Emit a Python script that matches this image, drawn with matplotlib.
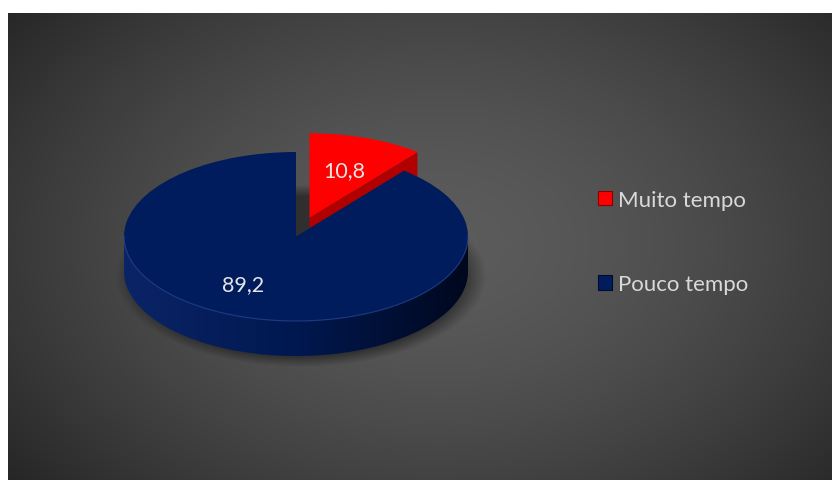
import numpy as np
import matplotlib.pyplot as plt
from matplotlib.patches import Polygon
from matplotlib.colors import LinearSegmentedColormap

plt.rcParams['font.family'] = ['Lato', 'DejaVu Sans']

# dados do gráfico
labels = ['Muito tempo', 'Pouco tempo']
values = [10.8, 89.2]
explode = [0.235, 0.0]
top_colors = ['#ff0000', '#001c5c']
face_colors = ['#b00000', '#00123c']
side_colors = [['#d00000', '#a00000', '#700000'],
               ['#0b2466', '#001850', '#00081e']]
edge_colors = ['#8a0000', '#000c2c']

W, H = 833, 481
fig = plt.figure(figsize=(W / 100, H / 100), dpi=100)
fig.patch.set_facecolor('white')

# fundo cinza com gradiente radial
bw, bh = 824, 467
bg = fig.add_axes([8 / W, 0, bw / W, bh / H])
yy, xx = np.mgrid[0:bh, 0:bw]
rho = np.sqrt(((xx - 430) / 560) ** 2 + ((yy - 230) / 380) ** 2)
val = 0.36 - 0.215 * np.clip(rho, 0, 1.2) ** 1.6
bg.imshow(np.dstack([val, val, val]), aspect='auto', interpolation='bilinear')
bg.axis('off')

# eixo da pizza: círculo unitário achatado em elipse
cx, cy, rx, ry = 296, H - 237.5, 172, 84.5
depth = 35 / ry
ax = fig.add_axes([0, 0, 1, 1])
ax.set_facecolor('none')

wedges, texts, autotexts = ax.pie(
    values, explode=explode, colors=top_colors, startangle=90,
    counterclock=False, pctdistance=0.6,
    autopct=lambda p: f'{p:.1f}'.replace('.', ','),
    wedgeprops=dict(linewidth=0),
    textprops=dict(color='#e6e6e6', fontsize=15.5))

# sombra suave por baixo
sx0, sx1, sy0, sy1 = -1.4, 1.5, -2.2, 1.2
gy, gx = np.mgrid[sy1:sy0:300j, sx0:sx1:300j]
d = np.sqrt((gx - 0.03) ** 2 + (gy + depth + 0.06) ** 2)
alpha = 0.45 * np.clip((1.08 - d) / 0.14, 0, 1)
shadow = np.zeros(gx.shape + (4,))
shadow[..., 3] = alpha
ax.imshow(shadow, extent=(sx0, sx1, sy0, sy1), aspect='auto',
          interpolation='bilinear', zorder=0.5)

for i, w in enumerate(wedges):
    x0, y0 = w.center
    r = w.r
    t1, t2 = w.theta1, w.theta2
    zs = 1 + 2 * i
    w.set_zorder(zs + 1)

    # face radial visível (lado voltado para a frente)
    for t, visible in ((t1, np.cos(np.radians(t1)) > 1e-9),
                       (t2, np.cos(np.radians(t2)) < -1e-9)):
        if not visible:
            continue
        px = x0 + r * np.cos(np.radians(t))
        py = y0 + r * np.sin(np.radians(t))
        ax.add_patch(Polygon([(x0, y0), (px, py), (px, py - depth),
                              (x0, y0 - depth)], closed=True,
                             facecolor=face_colors[i], edgecolor='none',
                             zorder=zs))

    # parede lateral curva (metade da frente)
    cmap = LinearSegmentedColormap.from_list('side%d' % i, side_colors[i])
    for k in (-1, 0, 1):
        lo, hi = max(t1, -180 + 360 * k), min(t2, 360 * k)
        if hi <= lo:
            continue
        a = np.radians(np.linspace(lo, hi, 200))
        ux, uy = x0 + r * np.cos(a), y0 + r * np.sin(a)
        pts = np.vstack([np.column_stack([ux, uy]),
                         np.column_stack([ux, uy - depth])[::-1]])
        poly = Polygon(pts, closed=True, transform=ax.transData)
        grad = np.linspace(0, 1, 256)[None, :]
        im = ax.imshow(grad, extent=(x0 - r, x0 + r, y0 - r - depth, y0),
                       aspect='auto', cmap=cmap, zorder=zs)
        im.set_clip_path(poly)
        ax.plot(ux, uy, color='#2a4a9c', lw=0.9, alpha=0.6, zorder=zs + 1.5)

for t in autotexts:
    t.set_zorder(10)
# rótulo da fatia maior um pouco mais à esquerda
autotexts[1].set_position((-0.308, -0.56))

ax.set_aspect('auto')
ax.set_xlim(-cx / rx, (W - cx) / rx)
ax.set_ylim(-cy / ry, (H - cy) / ry)
ax.axis('off')

leg = ax.legend(wedges, labels, loc='upper left',
                bbox_to_anchor=(598 / W, 1 - 191 / H),
                bbox_transform=fig.transFigure, frameon=False,
                fontsize=16, labelcolor='#d9d9d9', handlelength=0.62,
                handleheight=0.62, handletextpad=0.3, labelspacing=2.9,
                borderpad=0, borderaxespad=0)
for h, ec in zip(leg.legend_handles, edge_colors):
    h.set_edgecolor(ec)
    h.set_linewidth(0.8)

fig.savefig('out.png', dpi=100)
